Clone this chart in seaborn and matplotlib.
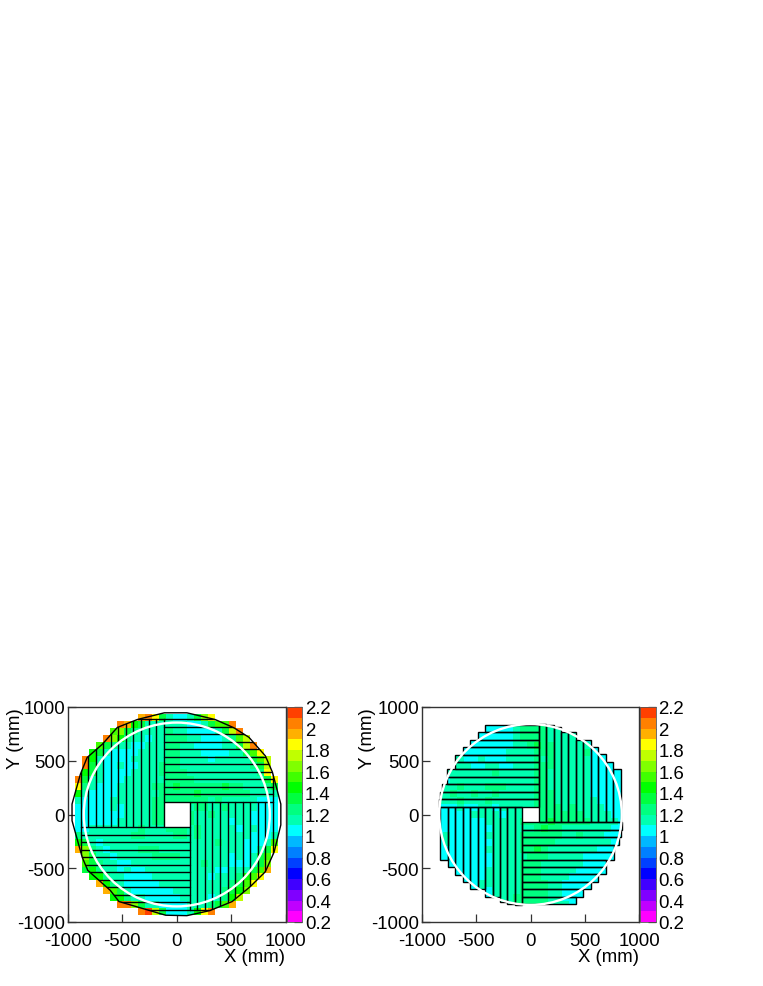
import numpy as np
import pandas as pd
import matplotlib
matplotlib.use('Agg')
import matplotlib.pyplot as plt
import seaborn as sns
from matplotlib.colors import ListedColormap, BoundaryNorm
from matplotlib.patches import Circle, Polygon, Rectangle
from matplotlib.path import Path
from matplotlib.transforms import Affine2D

# -----------------------------
# Data
# -----------------------------
# each character is one cell, hex step above 1.0 (0 -> 1.0-1.1, 1 -> 1.1-1.2, ...)
# rows run top to bottom and are centred in the 31 x 31 grid, empty string = empty row
left_rows = [
    '',
    '9a831001368',
    'a943111111001355a',
    '563211112110000137a',
    'a64211011222110001257',
    '5321100111221100001137a',
    '4310000111122111000011358',
    'a41000011111221111011111357',
    'a31001001112221111111111237',
    '431000011112222111111111128',
    'a3110001111112222111111111138',
    '82100011111222322222232211123',
    '41000011111122222322222221111',
    '10000111111222222221211111000',
    '00000101111222221221121111000',
    '00000001111222212112111110000',
    '00000011111222212111110110000',
    '00111111121112221211111011000',
    '21111111221111221211111110001',
    '43101111111111111111211100015',
    '96210111122211111111111100138',
    '631101111122221111111010135',
    '532110011111111112111000136',
    '342110100111111111100111359',
    '4421100001111111101112458',
    '94210000011111111112358',
    '953100000011111112346',
    '4421100000111101247',
    'aa631100001112359',
    'ab73000148a',
    '',
]
right_rows = [
    '',
    '',
    '000001222211111',
    '0000000122221111111',
    '000000001222211111011',
    '00000000011232211111000',
    '00000000111122211112000',
    '1110010001111212111110000',
    '1111001100111222111110000',
    '111111112111112211111100000',
    '101111111111112211111100000',
    '111211122211112211111100000',
    '112112112111112221111100000',
    '111211121111112221111110000',
    '000100110111112222121111000',
    '000001111011122222222111100',
    '000000011111222232222211110',
    '000000001111112322111111100',
    '010000011111222222112111000',
    '010000001111222221111111100',
    '000000011111223211111110000',
    '000000001111122211111000000',
    '0000000111122211111100000',
    '0000001111122211111000000',
    '00000111112221111000000',
    '00001111112222110000000',
    '000101111222211000000',
    '0000111222221100000',
    '011112222211100',
    '',
    '',
]

level_edges = [round(0.2 + 0.1 * i, 1) for i in range(21)]
bar_colors = ['#ff00ff', '#c000ff', '#8000ff', '#4000ff', '#0000ff', '#0040ff', '#0080ff',
              '#00b8ff', '#00ffff', '#00ffb0', '#00ff80', '#00ff40', '#00ff00', '#40ff00',
              '#80ff00', '#c0ff00', '#ffff00', '#ffb000', '#ff8000', '#ff4000']
bar_ticks = [0.2, 0.4, 0.6, 0.8, 1.0, 1.2, 1.4, 1.6, 1.8, 2.0, 2.2]
axis_ticks = [-1000, -500, 0, 500, 1000]

# outline of the outer chamber, mm
outline_x = [-963, -886, -824, -685, -546, -361, -114, 93, 352, 525, 664, 815, 880, 957,
             957, 895, 815, 676, 509, 305, 93, -102, -531, -611, -818, -870, -963]
outline_y = [97, 375, 530, 653, 810, 884, 946, 946, 884, 807, 718, 545, 393, 97,
             -97, -350, -532, -671, -810, -894, -941, -937, -810, -706, -520, -396, -57]

# strip layout, mm
left_hole = 120
left_pitch = 69.5
left_strips = 12
left_radius = 855
right_hole = 74
right_pitch = 69
right_lengths = [842, 836, 812, 770, 765, 697, 697, 626, 559, 488, 420]
right_radius = 841

pixel_w, pixel_h = 763, 987


# -----------------------------
# Helpers
# -----------------------------
def decode_rows(rows):
    grid = np.full((31, 31), np.nan)
    for r, row in enumerate(rows):
        row = row.center(31, '.')
        for c, ch in enumerate(row):
            if ch != '.':
                grid[r, c] = 1.05 + 0.1 * int(ch, 16)
    return grid


def px_axes(fig, x0, x1, y0, y1):
    return fig.add_axes([x0 / pixel_w, 1 - y1 / pixel_h, (x1 - x0) / pixel_w, (y1 - y0) / pixel_h])


def turn(points, quarter):
    pts = np.asarray(points, dtype=float)
    for _ in range(quarter):
        pts = np.column_stack([pts[:, 1], -pts[:, 0]])
    return pts


def draw_map(fig, rows, box, bar_box, ylabel_x):
    ax = px_axes(fig, *box)
    cax = px_axes(fig, *bar_box)
    grid = pd.DataFrame(decode_rows(rows))
    cmap = ListedColormap(bar_colors)
    norm = BoundaryNorm(level_edges, cmap.N)
    sns.heatmap(grid, ax=ax, cbar_ax=cax, cmap=cmap, norm=norm, square=False,
                cbar_kws={'ticks': bar_ticks, 'format': '%g'})

    # heatmap works in cell numbers, this one goes from mm to cells
    n = grid.shape[0]
    mm = Affine2D().scale(n / 2000, -n / 2000).translate(n / 2, n / 2) + ax.transData

    pos = [(t + 1000) / 2000 * n for t in axis_ticks]
    ax.set_xticks(pos)
    ax.set_xticklabels([str(t) for t in axis_ticks], rotation=0)
    ax.set_yticks(pos)
    ax.set_yticklabels([str(t) for t in axis_ticks[::-1]], rotation=0, va='center_baseline')
    ax.set_xlim(0, n)
    ax.set_ylim(n, 0)
    ax.tick_params(axis='both', direction='in', length=6, width=0.9, color='#333333',
                   labelsize=13.4, labelcolor='black', pad=2,
                   top=False, right=False, bottom=True, left=True)
    ax.tick_params(axis='x', pad=7)
    ax.set_xlabel('')
    ax.set_ylabel('')
    for side in ax.spines.values():
        side.set_visible(True)
        side.set_linewidth(1.0)
        side.set_color('#333333')

    fig.text(box[1] / pixel_w, 1 - 958 / pixel_h, 'X (mm)', ha='right', va='center',
             fontsize=13.4, color='black')
    fig.text(ylabel_x / pixel_w, 1 - box[2] / pixel_h, 'Y (mm)', ha='center', va='top',
             rotation=90, fontsize=13.4, color='black')

    cax.tick_params(axis='y', direction='in', length=6, width=0.9, color='#222222',
                    labelsize=13.4, labelcolor='black', pad=2, right=True, left=False)
    cax.minorticks_off()
    cb = ax.collections[0].colorbar
    cb.outline.set_visible(True)
    cb.outline.set_linewidth(0.6)
    cb.outline.set_edgecolor('#555555')
    return ax, mm


# -----------------------------
# Figure
# -----------------------------
sns.set_style('white')
plt.rcParams['font.family'] = ['Liberation Sans', 'DejaVu Sans']

fig = plt.figure(figsize=(pixel_w / 100, pixel_h / 100), dpi=100)

# left map: outer chamber
ax, mm = draw_map(fig, left_rows, (68, 285.5, 708, 923), (287, 302, 708, 923), 15)
ax.add_patch(Rectangle((-left_hole, -left_hole), 2 * left_hole, 2 * left_hole,
                       facecolor='white', edgecolor='none', transform=mm, zorder=3))
outline = Polygon(np.column_stack([outline_x, outline_y]), closed=True, fill=False,
                  edgecolor='black', linewidth=1.0, transform=mm, zorder=5)
ax.add_patch(outline)
strip_end = left_hole + (left_strips - 1) * left_pitch
for quarter in range(4):
    for k in range(left_strips):
        y = left_hole + k * left_pitch
        seg = turn([[-left_hole, y], [strip_end, y]], quarter)
        line, = ax.plot(seg[:, 0], seg[:, 1], color='black', linewidth=1.0, transform=mm, zorder=4)
        line.set_clip_path(outline)
    seg = turn([[strip_end, left_hole], [strip_end, 1000]], quarter)
    line, = ax.plot(seg[:, 0], seg[:, 1], color='black', linewidth=1.0, transform=mm, zorder=4)
    line.set_clip_path(outline)
ax.add_patch(Circle((0, 0), left_radius, fill=False, edgecolor='white', linewidth=1.7,
                    transform=mm, zorder=6))

# right map: inner chamber
ax, mm = draw_map(fig, right_rows, (422, 639, 708, 923), (640, 655.5, 708, 923), 368)
clip_parts = []
for quarter in range(4):
    for k, length in enumerate(right_lengths):
        y0 = right_hole + k * right_pitch
        corners = turn([[-length, y0], [right_hole, y0], [right_hole, y0 + right_pitch],
                        [-length, y0 + right_pitch], [-length, y0]], quarter)
        ax.add_patch(Polygon(corners, closed=True, fill=False, edgecolor='black',
                             linewidth=1.0, transform=mm, zorder=4))
        clip_parts.append(Path(corners, closed=True))
ax.collections[0].set_clip_path(Path.make_compound_path(*clip_parts), mm)
ax.add_patch(Circle((0, 0), right_radius, fill=False, edgecolor='white', linewidth=1.7,
                    transform=mm, zorder=6))

fig.savefig('out.png', dpi=100)
plt.close(fig)
